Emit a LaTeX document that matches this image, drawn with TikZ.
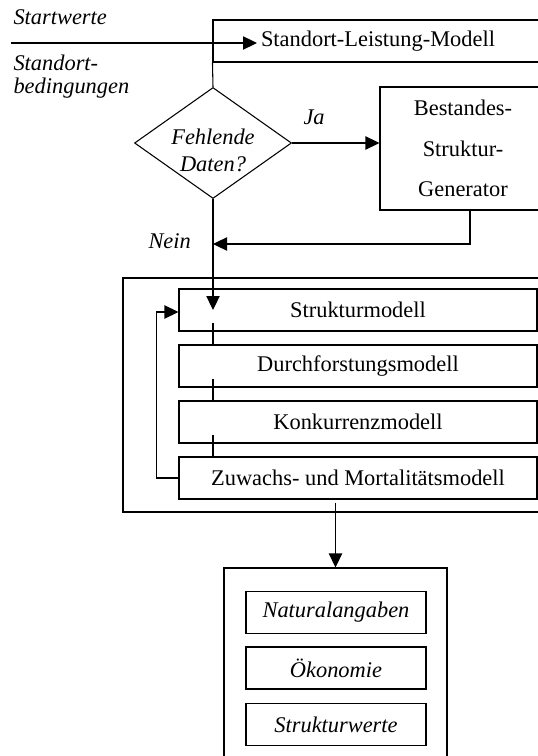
\documentclass[tikz,border=0pt]{standalone}
\usepackage{fontspec}
\setmainfont{Liberation Serif}
\usetikzlibrary{arrows.meta,shapes.geometric,calc}
\begin{document}
\begin{tikzpicture}[x=0.75pt,y=-0.75pt,line width=0.8pt,
  every node/.style={font=\fontsize{16.8}{20.2}\selectfont},
  box/.style={draw,inner sep=0pt,minimum height=31.5pt},
  arr/.style={-{Triangle[length=10.5pt,width=10pt]}},
  lbl/.style={inner sep=0pt,font=\fontsize{16.8}{20.2}\selectfont\itshape}]
\useasboundingbox (0,0) rectangle (538,756);
\clip (0,0) rectangle (538,756);
\fill[white] (0,0) rectangle (538,756);

% top part
\node[box,minimum width=247.5pt] (slm) at (378,41) {Standort-Leistung-Modell};
\node[lbl,anchor=base west] (sw) at (13,25) {Startwerte};
\node[lbl,anchor=north west,align=left,font=\fontsize{16.8}{17.5}\selectfont\itshape] (sb) at (13,54) {Standort-\\bedingungen};
\coordinate (in) at (11,43);
\coordinate (inTip) at (257,43);
\draw[arr] (in) -- (inTip);

% decision
\node[draw,diamond,inner sep=0pt,minimum width=117.75pt,minimum height=83.25pt] (dia) at (213,143) {};
\node[lbl,align=center] (dtxt) at (213,150) {Fehlende\\Daten?};
\draw (slm.south west) -- (dia.north);
\node[lbl,anchor=base west] (ja) at (303,125) {Ja};
\node[box,minimum width=124.5pt,minimum height=92.25pt,align=center,font=\fontsize{16.8}{30.4}\selectfont] (bsg) at (463,148.5) {Bestandes-\\Struktur-\\Generator};
\draw[arr] (dia.east) -- (dia.east -| bsg.west);
\node[lbl,anchor=base west] (nein) at (148,248) {Nein};
\coordinate (njoin) at (213,244);
\draw[arr] ([xshift=5.25pt]bsg.south) |- (njoin);

% model block
\node[box,minimum width=318.75pt,minimum height=175.5pt] (big) at (335.5,395) {};
\node[box,minimum width=268.5pt] (m1) at (358,310) {Strukturmodell};
\node[box,minimum width=268.5pt] (m2) at (358,366) {Durchforstungsmodell};
\node[box,minimum width=268.5pt] (m3) at (358,422) {Konkurrenzmodell};
\node[box,minimum width=268.5pt] (m4) at (358,478) {Zuwachs- und Mortalitätsmodell};
\coordinate (tipS) at (213,310);
\draw[arr] (dia.south) -- (tipS);
\draw ($(m1.south -| tipS)+(0,-9)$) -- (m2.north -| tipS);
\draw ($(m2.south -| tipS)+(0,-9)$) -- (m3.north -| tipS);
\draw ($(m3.south -| tipS)+(0,-9)$) -- (m4.north -| tipS);
\draw[arr] (m4.west) -- ++(-22,0) |- ([yshift=-1.5pt]m1.west);

% output block
\node[box,minimum width=167.25pt,minimum height=151.5pt] (out) at (335.5,669) {};
\draw[arr] ($(m4.south -| out.north)+(0,3)$) -- (out.north);
\node[box,lbl,minimum width=135pt,minimum height=31.5pt] (r1) at (336,612.5) {Naturalangaben};
\node[box,lbl,minimum width=135pt,minimum height=31.5pt] (r2) at (336,668) {Ökonomie};
\node[box,lbl,minimum width=135pt,minimum height=31.5pt] (r3) at (336,724.5) {Strukturwerte};
\end{tikzpicture}
\end{document}
